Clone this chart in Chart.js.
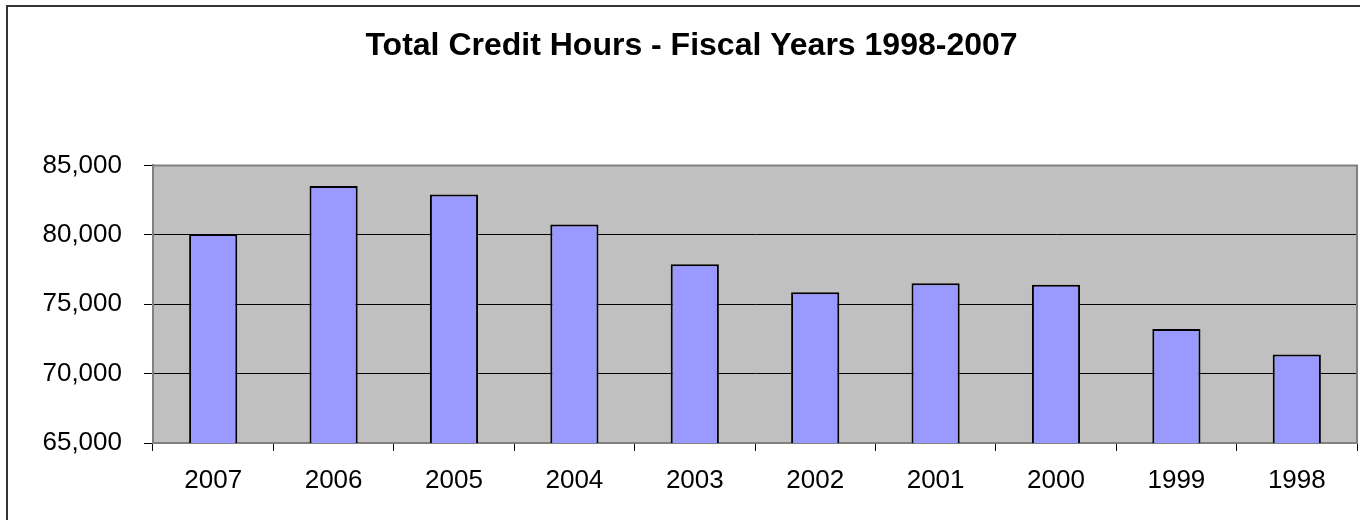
<!DOCTYPE html>
<html>
<head>
<meta charset="utf-8">
<title>Total Credit Hours</title>
<script src="https://cdn.jsdelivr.net/npm/chart.js@4.4.1/dist/chart.umd.min.js"></script>
<style>
  html, body { margin: 0; padding: 0; background: #fff; }
  #wrap { width: 1360px; height: 520px; position: relative; }
</style>
</head>
<body>
<div id="wrap"><canvas id="hoursChart" width="1360" height="520"></canvas></div>
<script>
// fiscal years, newest first
const years = ['2007', '2006', '2005', '2004', '2003', '2002', '2001', '2000', '1999', '1998'];
const creditHours = [80050, 83510, 82910, 80740, 77880, 75860, 76510, 76410, 73220, 71370];
const yTicks = [65000, 70000, 75000, 80000, 85000];

const FONT = '"Liberation Sans", Arial, Helvetica, sans-serif';

// grey plot background, plot frame and the outer chart border
const frame = {
  id: 'frame',
  beforeDraw(chart) {
    const { ctx, chartArea: a } = chart;
    ctx.save();
    ctx.fillStyle = '#fff';
    ctx.fillRect(0, 0, chart.width, chart.height);
    ctx.strokeStyle = '#333';
    ctx.lineWidth = 2;
    ctx.strokeRect(7, 6, chart.width + 20, chart.height + 20);
    ctx.fillStyle = '#c0c0c0';
    ctx.fillRect(a.left, a.top, a.right - a.left, a.bottom - a.top);
    ctx.restore();
  },
  beforeDatasetsDraw(chart) {
    const { ctx, chartArea: a } = chart;
    ctx.save();
    ctx.strokeStyle = '#808080';
    ctx.lineWidth = 2;
    ctx.beginPath();
    ctx.moveTo(a.left, a.top);
    ctx.lineTo(a.right, a.top);
    ctx.lineTo(a.right, a.bottom);
    ctx.stroke();
    ctx.restore();
  }
};

new Chart(document.getElementById('hoursChart'), {
  type: 'bar',
  data: {
    labels: years,
    datasets: [{
      label: 'Total Credit Hours',
      data: creditHours,
      backgroundColor: '#9999ff',
      borderColor: '#000',
      borderWidth: 2,
      barPercentage: 0.4,
      categoryPercentage: 1.0
    }]
  },
  options: {
    responsive: false,
    animation: false,
    layout: { padding: { left: 26, right: 3, top: 0, bottom: 0 } },
    plugins: {
      legend: { display: false },
      tooltip: { enabled: false },
      title: {
        display: true,
        text: 'Total Credit Hours - Fiscal Years 1998-2007',
        color: '#000',
        font: { family: FONT, size: 32, weight: 'bold' },
        padding: { top: 27, bottom: 100 }
      }
    },
    scales: {
      x: {
        grid: { offset: true, drawOnChartArea: false, tickLength: 8, tickColor: '#000', color: '#000' },
        border: { color: '#808080', width: 2 },
        ticks: { color: '#000', font: { family: FONT, size: 26 }, padding: 14, maxRotation: 0 },
        afterFit(scale) { scale.height = 77; }
      },
      y: {
        min: 65000,
        max: 85000,
        afterBuildTicks(scale) { scale.ticks = yTicks.map(v => ({ value: v })); },
        grid: { color: '#000', lineWidth: 1, tickLength: 9, tickColor: '#000' },
        border: { color: '#808080', width: 2 },
        ticks: {
          color: '#000',
          font: { family: FONT, size: 26 },
          padding: 22,
          callback: v => v.toLocaleString('en-US')
        },
        afterFit(scale) { scale.width = 127; }
      }
    }
  },
  plugins: [frame]
});
</script>
</body>
</html>
